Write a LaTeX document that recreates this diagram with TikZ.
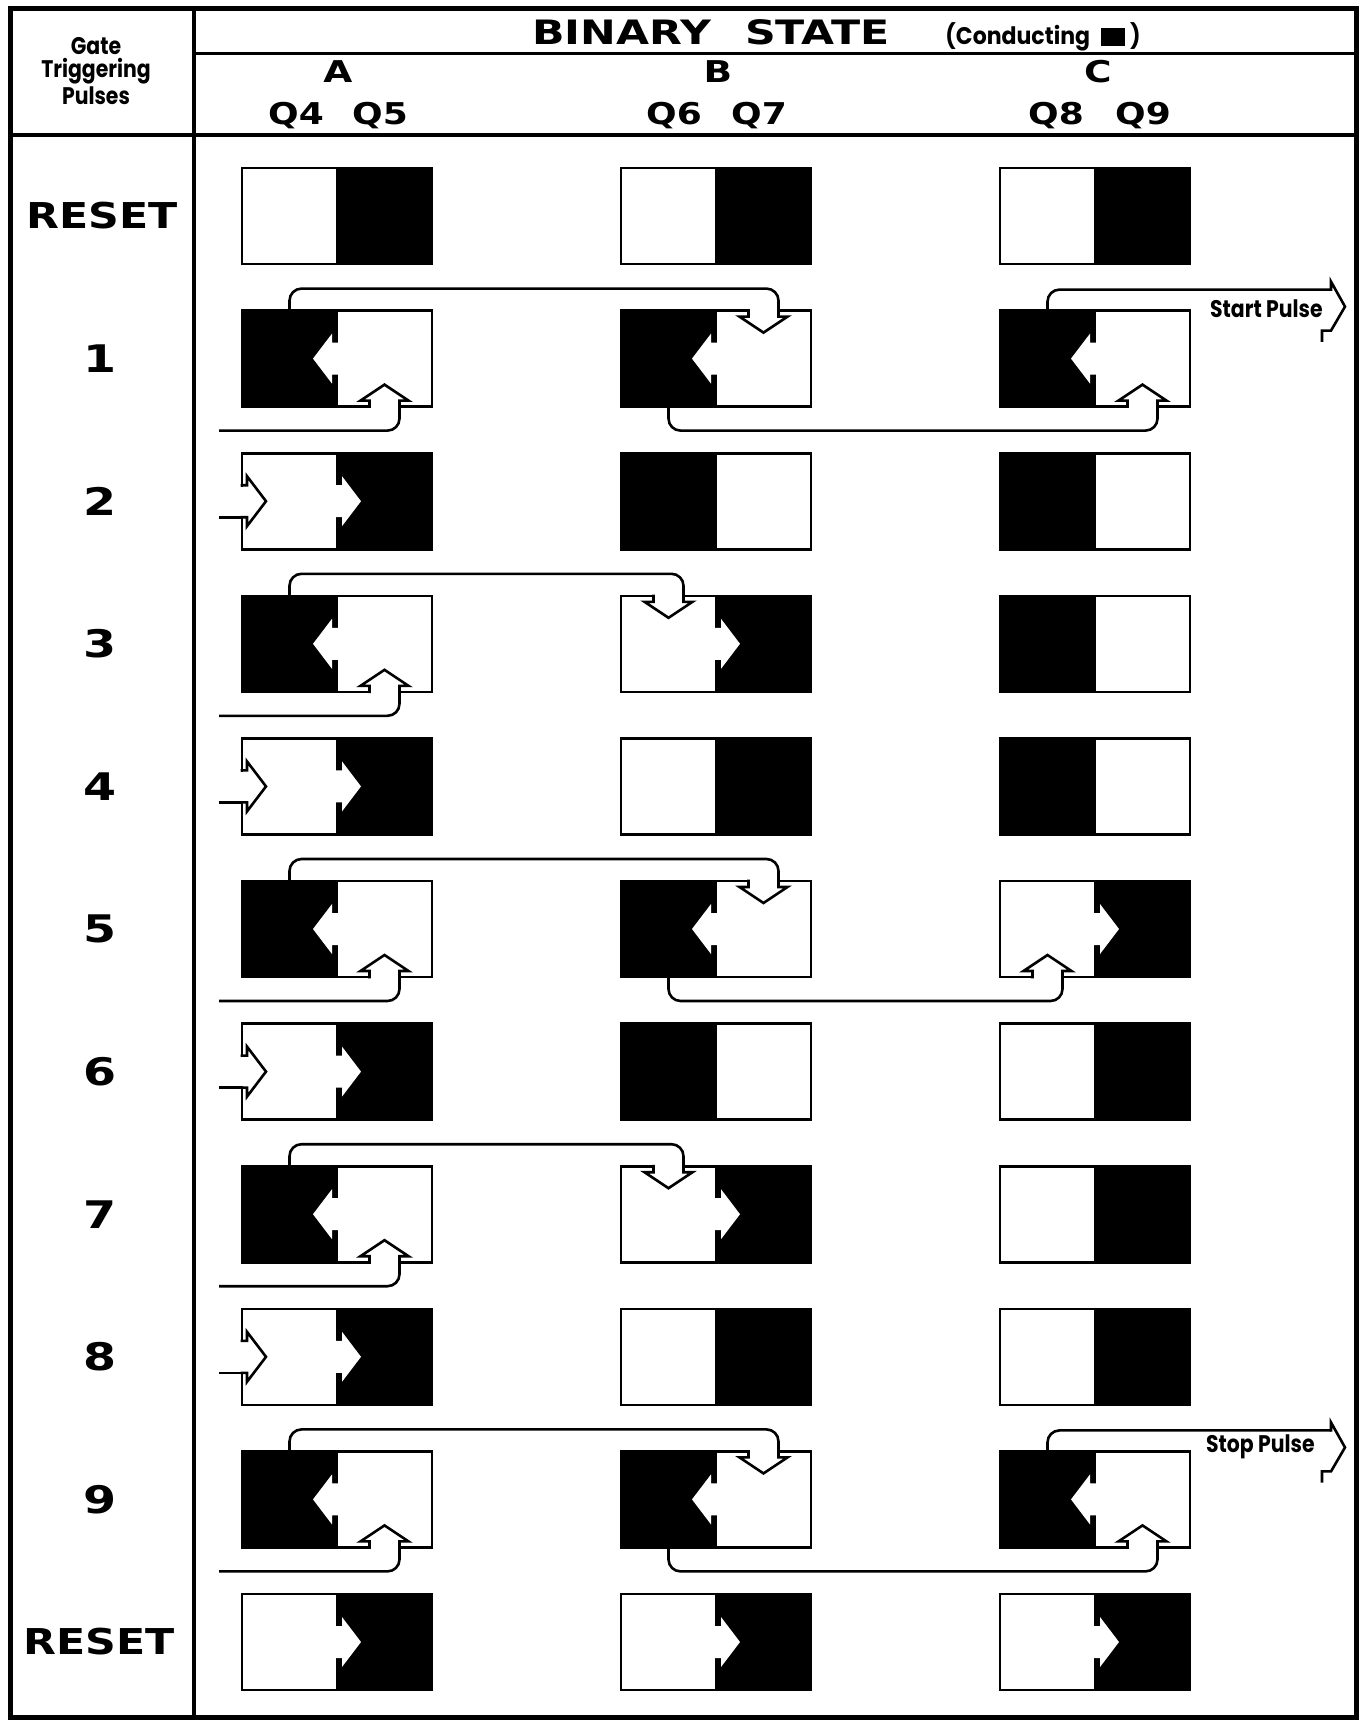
\documentclass[tikz,border=0pt]{standalone}
\usepackage{fontspec}
\usepackage{graphicx}
\setmainfont{DejaVu Sans}
\newfontfamily\extfont{DejaVu Sans}
\newfontfamily\futfont{Poppins}[FakeStretch=0.85]
\usetikzlibrary{calc}

\newcommand{\wideit}[2]{\scalebox{#1}[1]{#2}}
% horizontal arrow parameters (units = px)
\def\hS{5}\def\hSW{16}\def\hHW{25}\def\hL{19}
% vertical arrow parameters
\def\vS{6}\def\vSW{15}\def\vHW{24}\def\vL{16}

\tikzset{
  outerframe/.style={line width=2.5pt},
  hrulethick/.style={line width=2.1pt},
  hrulethin/.style={line width=1.5pt},
  halfbox/.style={rectangle, draw=black, line width=1.3pt, minimum width=47.5pt,
    minimum height=48pt, inner sep=0pt, outer sep=0pt},
  condbox/.style={halfbox, fill=black},
  offbox/.style={halfbox, fill=white},
  wire/.style={line width=1.3pt, rounded corners=6pt},
  arrline/.style={line width=1.3pt, line cap=rect, line join=miter},
  hdrtxt/.style={inner sep=0pt, font=\extfont\bfseries\fontsize{16.8}{18}\selectfont},
  coltxt/.style={inner sep=0pt, font=\extfont\bfseries\fontsize{15}{17}\selectfont},
  rowtxt/.style={inner sep=0pt, font=\extfont\bfseries\fontsize{17.8}{20}\selectfont},
  numtxt/.style={inner sep=0pt, font=\extfont\bfseries\fontsize{19}{21}\selectfont},
  smalltxt/.style={inner sep=0pt, font=\futfont\bfseries\fontsize{12}{12}\selectfont},
  gatetxt/.style={inner sep=0pt, font=\futfont\bfseries\fontsize{12}{11.6}\selectfont},
}

% cell: #1 name, #2 divider x, #3 centre y, #4 0 = left conducting, 1 = right conducting
\newcommand{\cell}[4]{%
  \ifnum#4=0
    \node[condbox] (#1l) at ({#2-47.5},#3) {};
    \node[offbox] (#1r) at ({#2+47.5},#3) {};
  \else
    \node[offbox] (#1l) at ({#2-47.5},#3) {};
    \node[condbox] (#1r) at ({#2+47.5},#3) {};
  \fi}
% white arrow into the black right half
\newcommand{\divR}[2]{%
  \fill[white] ({#1-2},{#2-\hSW}) -- ({#1+\hS},{#2-\hSW}) -- ({#1+\hS},{#2-\hHW})
    -- ({#1+\hS+\hL},#2) -- ({#1+\hS},{#2+\hHW}) -- ({#1+\hS},{#2+\hSW})
    -- ({#1-2},{#2+\hSW}) -- cycle;}
% white arrow into the black left half
\newcommand{\divL}[2]{%
  \fill[white] ({#1+2},{#2-\hSW}) -- ({#1-\hS},{#2-\hSW}) -- ({#1-\hS},{#2-\hHW})
    -- ({#1-\hS-\hL},#2) -- ({#1-\hS},{#2+\hHW}) -- ({#1-\hS},{#2+\hSW})
    -- ({#1+2},{#2+\hSW}) -- cycle;}
% up arrow at the bottom edge: #1 name, #2 x, #3 cell centre y
\newcommand{\uparr}[3]{%
  \fill[white] ({#2-\vSW+1.3},{#3+46}) rectangle ({#2+\vSW-1.3},{#3+50});
  \draw[arrline] ({#2-\vSW},{#3+48}) -- ({#2-\vSW},{#3+48-\vS}) -- ({#2-\vHW},{#3+48-\vS})
    -- (#2,{#3+48-\vS-\vL}) -- ({#2+\vHW},{#3+48-\vS}) -- ({#2+\vSW},{#3+48-\vS})
    -- ({#2+\vSW},{#3+48});
  \coordinate (#1) at ({#2+\vSW},{#3+48});}
% down arrow at the top edge
\newcommand{\downarr}[3]{%
  \fill[white] ({#2-\vSW+1.3},{#3-50}) rectangle ({#2+\vSW-1.3},{#3-46});
  \draw[arrline] ({#2-\vSW},{#3-48}) -- ({#2-\vSW},{#3-48+\vS}) -- ({#2-\vHW},{#3-48+\vS})
    -- (#2,{#3-48+\vS+\vL}) -- ({#2+\vHW},{#3-48+\vS}) -- ({#2+\vSW},{#3-48+\vS})
    -- ({#2+\vSW},{#3-48});
  \coordinate (#1) at ({#2+\vSW},{#3-48});}
% input arrow at the left edge
\newcommand{\inarr}[3]{%
  \fill[white] ({#2-2},{#3-\hSW+1.3}) rectangle ({#2+2},{#3+\hSW-1.3});
  \draw[arrline] (#2,{#3-\hSW}) -- ({#2+\hS},{#3-\hSW}) -- ({#2+\hS},{#3-\hHW})
    -- ({#2+\hS+\hL},#3) -- ({#2+\hS},{#3+\hHW}) -- ({#2+\hS},{#3+\hSW}) -- (#2,{#3+\hSW});
  \coordinate (#1) at (#2,{#3+\hSW});}
% pulse output chevron: #1 start coordinate name, #2 cell centre y
\newcommand{\pulsehead}[2]{%
  \draw[arrline] (#1) -- (1331,{#2-77}) -- (1345,{#2-52}) -- (1331,{#2-28})
    -- (1322,{#2-28}) -- (1322,{#2-18});}

\begin{document}
\begin{tikzpicture}[x=0.5pt,y=-0.5pt]
\useasboundingbox (0,0) rectangle (1364,1721);
\fill[white] (0,0) rectangle (1364,1721);

% ---------- frame and header ----------
\draw[outerframe] (10,8) rectangle (1356,1717);
\draw[hrulethick] (194,8) -- (194,1717);
\draw[hrulethin] (194,53) -- (1356,53);
\draw[hrulethick] (10,135) -- (1356,135);

\node[gatetxt, align=center] (gate) at (96,71) {Gate\\Triggering\\Pulses};
\node[hdrtxt] (binary) at (711,32) {\wideit{1.27}{BINARY\hspace{0.8em}STATE}};
\node[smalltxt] (cond) at (1043,37) {\wideit{1.08}{(Conducting\hspace{5pt}\rule[-0.5pt]{11pt}{9pt}\hspace{2.5pt})}};
\node[coltxt] (colA) at (338,72) {\wideit{1.25}{A}};
\node[coltxt] (colB) at (718,72) {\wideit{1.25}{B}};
\node[coltxt] (colC) at (1098,72) {\wideit{1.25}{C}};
\node[coltxt] (q4) at (296,116) {\wideit{1.2}{Q4}};
\node[coltxt] (q5) at (380,116) {\wideit{1.2}{Q5}};
\node[coltxt] (q6) at (674,116) {\wideit{1.2}{Q6}};
\node[coltxt] (q7) at (759,116) {\wideit{1.2}{Q7}};
\node[coltxt] (q8) at (1056,116) {\wideit{1.2}{Q8}};
\node[coltxt] (q9) at (1143,116) {\wideit{1.2}{Q9}};

% ---------- row labels ----------
\node[rowtxt] (r0) at (102,216) {\wideit{1.2}{RESET}};
\node[numtxt] (r1) at (100,358.6) {\wideit{1.25}{1}};
\node[numtxt] (r2) at (100,501.2) {\wideit{1.25}{2}};
\node[numtxt] (r3) at (100,643.8) {\wideit{1.25}{3}};
\node[numtxt] (r4) at (100,786.4) {\wideit{1.25}{4}};
\node[numtxt] (r5) at (100,929) {\wideit{1.25}{5}};
\node[numtxt] (r6) at (100,1071.6) {\wideit{1.25}{6}};
\node[numtxt] (r7) at (100,1214.2) {\wideit{1.25}{7}};
\node[numtxt] (r8) at (100,1356.8) {\wideit{1.25}{8}};
\node[numtxt] (r9) at (100,1499.4) {\wideit{1.25}{9}};
\node[rowtxt] (r10) at (99,1642) {\wideit{1.2}{RESET}};

% ---------- row 0: reset ----------
\cell{A0}{337}{216}{1} \cell{B0}{716}{216}{1} \cell{C0}{1095}{216}{1}

% ---------- row 1 ----------
\cell{A1}{337}{358.6}{0} \cell{B1}{716}{358.6}{0} \cell{C1}{1095}{358.6}{0}
\divL{337}{358.6} \divL{716}{358.6} \divL{1095}{358.6}
\uparr{A1up}{384.5}{358.6}
\downarr{B1dn}{763.5}{358.6}
\uparr{C1up}{1142.5}{358.6}
\coordinate (A1in) at (219,430.6);
\coordinate (C1out) at (1331,289.6);
\draw[wire] (A1in) -| (A1up);
\draw[wire] (A1l.north) -- ++(0,-22) -| (B1dn);
\draw[wire] (B1l.south) -- ++(0,24) -| (C1up);
\draw[wire] (C1l.north) |- (C1out);
\pulsehead{C1out}{358.6}
\node[smalltxt, anchor=east] (startlbl) at (1323,308.6) {Start Pulse};

% ---------- row 2 ----------
\cell{A2}{337}{501.2}{1} \cell{B2}{716}{501.2}{0} \cell{C2}{1095}{501.2}{0}
\divR{337}{501.2}
\inarr{A2e}{242}{501.2}
\coordinate (A2in) at (219,517.2);
\draw[wire] (A2in) -- (A2e);

% ---------- row 3 ----------
\cell{A3}{337}{643.8}{0} \cell{B3}{716}{643.8}{1} \cell{C3}{1095}{643.8}{0}
\divL{337}{643.8} \divR{716}{643.8}
\uparr{A3up}{384.5}{643.8}
\downarr{B3dn}{668.5}{643.8}
\coordinate (A3in) at (219,715.8);
\draw[wire] (A3in) -| (A3up);
\draw[wire] (A3l.north) -- ++(0,-22) -| (B3dn);

% ---------- row 4 ----------
\cell{A4}{337}{786.4}{1} \cell{B4}{716}{786.4}{1} \cell{C4}{1095}{786.4}{0}
\divR{337}{786.4}
\inarr{A4e}{242}{786.4}
\coordinate (A4in) at (219,802.4);
\draw[wire] (A4in) -- (A4e);

% ---------- row 5 ----------
\cell{A5}{337}{929}{0} \cell{B5}{716}{929}{0} \cell{C5}{1095}{929}{1}
\divL{337}{929} \divL{716}{929} \divR{1095}{929}
\uparr{A5up}{384.5}{929}
\downarr{B5dn}{763.5}{929}
\uparr{C5up}{1047.5}{929}
\coordinate (A5in) at (219,1001);
\draw[wire] (A5in) -| (A5up);
\draw[wire] (A5l.north) -- ++(0,-22) -| (B5dn);
\draw[wire] (B5l.south) -- ++(0,24) -| (C5up);

% ---------- row 6 ----------
\cell{A6}{337}{1071.6}{1} \cell{B6}{716}{1071.6}{0} \cell{C6}{1095}{1071.6}{1}
\divR{337}{1071.6}
\inarr{A6e}{242}{1071.6}
\coordinate (A6in) at (219,1087.6);
\draw[wire] (A6in) -- (A6e);

% ---------- row 7 ----------
\cell{A7}{337}{1214.2}{0} \cell{B7}{716}{1214.2}{1} \cell{C7}{1095}{1214.2}{1}
\divL{337}{1214.2} \divR{716}{1214.2}
\uparr{A7up}{384.5}{1214.2}
\downarr{B7dn}{668.5}{1214.2}
\coordinate (A7in) at (219,1286.2);
\draw[wire] (A7in) -| (A7up);
\draw[wire] (A7l.north) -- ++(0,-22) -| (B7dn);

% ---------- row 8 ----------
\cell{A8}{337}{1356.8}{1} \cell{B8}{716}{1356.8}{1} \cell{C8}{1095}{1356.8}{1}
\divR{337}{1356.8}
\inarr{A8e}{242}{1356.8}
\coordinate (A8in) at (219,1372.8);
\draw[wire] (A8in) -- (A8e);

% ---------- row 9 ----------
\cell{A9}{337}{1499.4}{0} \cell{B9}{716}{1499.4}{0} \cell{C9}{1095}{1499.4}{0}
\divL{337}{1499.4} \divL{716}{1499.4} \divL{1095}{1499.4}
\uparr{A9up}{384.5}{1499.4}
\downarr{B9dn}{763.5}{1499.4}
\uparr{C9up}{1142.5}{1499.4}
\coordinate (A9in) at (219,1571.4);
\coordinate (C9out) at (1331,1430.4);
\draw[wire] (A9in) -| (A9up);
\draw[wire] (A9l.north) -- ++(0,-22) -| (B9dn);
\draw[wire] (B9l.south) -- ++(0,24) -| (C9up);
\draw[wire] (C9l.north) |- (C9out);
\pulsehead{C9out}{1499.4}
\node[smalltxt, anchor=east] (stoplbl) at (1315,1446.4) {Stop Pulse};

% ---------- row 10: reset ----------
\cell{A10}{337}{1642}{1} \cell{B10}{716}{1642}{1} \cell{C10}{1095}{1642}{1}
\divR{337}{1642} \divR{716}{1642} \divR{1095}{1642}

\end{tikzpicture}
\end{document}
